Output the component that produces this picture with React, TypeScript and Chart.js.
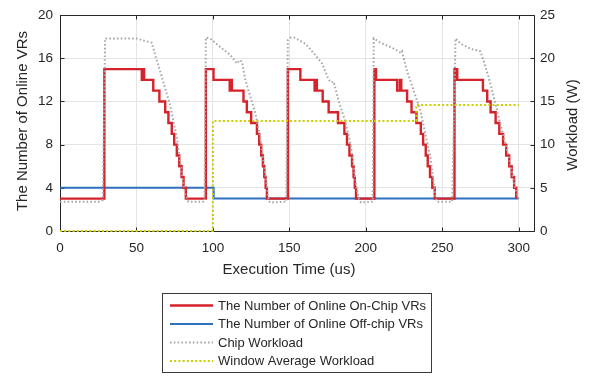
import React, { useEffect, useRef } from "react";
import { Chart, registerables } from "chart.js";

Chart.register(...registerables);

// ---- Axis ticks ----
const xTicks = [0, 50, 100, 150, 200, 250, 300];
const leftTicks = [0, 4, 8, 12, 16, 20];
const rightTicks = [0, 5, 10, 15, 20, 25];

// ---- Series: The Number of Online On-Chip VRs (step: value from t onward) ----
const onChipT = [
  0, 29, 53.5, 54.2, 55, 61, 65, 68.8, 70.9, 73.1, 74.7, 76.4, 78, 79.5, 80.8, 82.3,
  95.4, 100.4, 111, 111.6, 112.4, 120, 122.2, 125, 128.8, 130.3, 131.6, 132.7, 133.6, 134.5, 135.3,
  149, 157.2, 166.5, 167.2, 168, 171.8, 175.7, 181.8, 186, 187.7, 189.3, 191, 192, 192.8, 193.6,
  205.6, 206.7, 220.5, 222.3, 223.2, 227, 229.9, 233.1, 236, 237.5, 239.2, 240.5, 242, 243.5, 245.1,
  258, 259, 259.4, 259.8, 276.6, 279.4, 281.6, 284.9, 287.3, 289.8, 291.8, 293.8, 295.4, 297, 298.4,
];
const onChipV = [
  3, 15, 14, 15, 14, 13, 12, 11, 10, 9, 8, 7, 6, 5, 4, 3,
  15, 14, 13, 14, 13, 12, 11, 10, 9, 8, 7, 6, 5, 4, 3,
  15, 14, 13, 14, 13, 12, 11, 10, 9, 8, 7, 6, 5, 4, 3,
  15, 14, 13, 14, 13, 12, 11, 10, 9, 8, 7, 6, 5, 4, 3,
  15, 14, 15, 14, 13, 12, 11, 10, 9, 8, 7, 6, 5, 4, 3,
];

// ---- Series: The Number of Online Off-chip VRs ----
const offChipT = [0, 100.5, 300];
const offChipV = [4, 3, 3];

// ---- Series: Chip Workload (W, right axis) ----
const chipT = [
  0, 26, 28, 29.5, 50, 55.7, 60, 62.2, 65.5, 68.8, 72, 74.2, 76.4, 78.6, 80.1, 81.9, 84,
  94.5, 95.4, 98.2, 104.8, 111.3, 115.7, 117.5, 119, 121.2, 124.4, 127.7, 131, 133.1, 134.9, 136.4, 137.5,
  148, 149, 151, 153, 160.4, 165.9, 171.4, 175.7, 177.5, 179, 182.3, 186.6, 190, 192.1, 193.8, 195.8, 197,
  204.5, 205.2, 209.6, 216.1, 221.6, 223, 223.8, 224.5, 227, 231.4, 235.8, 239, 242.3, 244, 245.6, 246.5,
  256.5, 258.7, 262, 268.5, 275, 277.2, 280.5, 283.8, 287, 290.3, 293.6, 295.8, 298, 300,
];
const chipW = [
  3.4, 3.4, 3.6, 22.3, 22.3, 22.0, 21.8, 20.4, 18.5, 16.5, 14.6, 12.7, 10.8, 8.1, 6.2, 4.3, 3.4,
  3.4, 22.4, 22.3, 21.3, 20.4, 19.4, 19.8, 19.6, 17.5, 15.6, 13.7, 10.8, 8.1, 5.8, 3.5, 3.3,
  3.4, 22.1, 22.4, 22.4, 21.7, 20.6, 19.4, 17.5, 17.2, 17.3, 15.0, 12.7, 10.1, 7.4, 5.1, 3.5, 3.3,
  3.4, 22.3, 21.8, 21.3, 20.8, 20.6, 20.8, 20.2, 18.5, 16.2, 13.9, 11.2, 8.5, 6.2, 3.9, 3.4,
  3.4, 22.3, 21.7, 21.1, 20.8, 19.6, 17.7, 15.4, 13.1, 10.8, 8.5, 6.6, 4.7, 3.75,
];

// ---- Series: Window Average Workload (W, right axis, step) ----
const avgT = [0, 100, 233, 300];
const avgW = [0, 12.75, 14.6, 14.6];

const labels = [
  "The Number of Online On-Chip VRs",
  "The Number of Online Off-chip VRs",
  "Chip Workload",
  "Window Average Workload",
];

const FONT = "'Liberation Sans', Arial, Helvetica, sans-serif";
const TXT = "#262626";
const GRID = "#e4e4e4";

const pts = (t: number[], v: number[]) => t.map((x, i) => ({ x, y: v[i] }));

const framePlugin = {
  id: "frame",
  beforeDatasetsDraw(chart: any) {
    const { ctx, chartArea: a, scales } = chart;
    const L = Math.round(a.left) + 0.5;
    const R = Math.round(a.right) + 0.5;
    const T = Math.round(a.top) + 0.5;
    const B = Math.round(a.bottom) + 0.5;
    ctx.save();
    ctx.strokeStyle = TXT;
    ctx.lineWidth = 1;
    ctx.beginPath();
    ctx.rect(L, T, R - L, B - T);
    const tl = 4;
    xTicks.forEach((v) => {
      const x = Math.round(scales.x.getPixelForValue(v)) + 0.5;
      ctx.moveTo(x, B);
      ctx.lineTo(x, B - tl);
      ctx.moveTo(x, T);
      ctx.lineTo(x, T + tl);
    });
    leftTicks.forEach((v) => {
      const y = Math.round(scales.y.getPixelForValue(v)) + 0.5;
      ctx.moveTo(L, y);
      ctx.lineTo(L + tl, y);
    });
    rightTicks.forEach((v) => {
      const y = Math.round(scales.y2.getPixelForValue(v)) + 0.5;
      ctx.moveTo(R, y);
      ctx.lineTo(R - tl, y);
    });
    ctx.stroke();
    ctx.restore();
  },
  afterDraw(chart: any) {
    const { ctx, chartArea: a } = chart;
    ctx.save();
    ctx.fillStyle = TXT;
    ctx.font = `15px ${FONT}`;
    ctx.textAlign = "center";
    ctx.textBaseline = "middle";
    const cy = (a.top + a.bottom) / 2;
    // left title
    ctx.save();
    ctx.translate(23, cy - 2);
    ctx.rotate(-Math.PI / 2);
    ctx.fillText("The Number of Online VRs", 0, 0);
    ctx.restore();
    // right title (reads bottom to top)
    ctx.save();
    ctx.translate(573, cy + 2);
    ctx.rotate(-Math.PI / 2);
    ctx.fillText("Workload (W)", 0, 0);
    ctx.restore();
    // x title
    ctx.fillText("Execution Time (us)", 289, 270);

    // legend
    const bx = 162.5, by = 293.5, bw = 269, bh = 79;
    ctx.fillStyle = "#ffffff";
    ctx.fillRect(bx, by, bw, bh);
    ctx.strokeStyle = "#3a3a3a";
    ctx.lineWidth = 1;
    ctx.strokeRect(bx, by, bw, bh);
    const rows = [305.5, 324, 342.5, 361];
    ctx.font = `13px ${FONT}`;
    ctx.textAlign = "left";
    chart.data.datasets.forEach((ds: any, i: number) => {
      const y = rows[i];
      ctx.save();
      ctx.strokeStyle = ds.borderColor;
      ctx.lineWidth = ds.borderWidth;
      ctx.setLineDash(ds.borderDash || []);
      ctx.beginPath();
      ctx.moveTo(170, y);
      ctx.lineTo(213, y);
      ctx.stroke();
      ctx.restore();
      ctx.fillStyle = TXT;
      ctx.fillText(ds.label, 218, y + 0.5);
    });
    ctx.restore();
  },
};

export default function App() {
  const ref = useRef<HTMLCanvasElement | null>(null);
  useEffect(() => {
    document.body.style.margin = "0";
    if (!ref.current) return;
    const tickFont = { family: FONT, size: 13.5 };
    const chart = new Chart(ref.current, {
      type: "line",
      data: {
        datasets: [
          {
            label: labels[0],
            data: pts(onChipT, onChipV),
            borderColor: "#d6222a",
            borderWidth: 2.4,
            pointRadius: 0,
            stepped: "before",
            yAxisID: "y",
            order: 2,
            clip: false,
          },
          {
            label: labels[1],
            data: pts(offChipT, offChipV),
            borderColor: "#2f6fc0",
            borderWidth: 2,
            pointRadius: 0,
            stepped: "before",
            yAxisID: "y",
            order: 3,
            clip: false,
          },
          {
            label: labels[2],
            data: pts(chipT, chipW),
            borderColor: "#a8a8a8",
            borderWidth: 2,
            borderDash: [1.6, 2.2],
            pointRadius: 0,
            tension: 0,
            yAxisID: "y2",
            order: 1,
            clip: false,
          },
          {
            label: labels[3],
            data: pts(avgT, avgW),
            borderColor: "#cccc00",
            borderWidth: 2,
            borderDash: [2, 2.2],
            pointRadius: 0,
            stepped: "before",
            yAxisID: "y2",
            order: 0,
            clip: false,
          },
        ] as any,
      },
      options: {
        animation: false,
        responsive: false,
        devicePixelRatio: 1,
        layout: { padding: { top: 12, bottom: 116, left: 0, right: 0 } },
        plugins: { legend: { display: false }, tooltip: { enabled: false } },
        scales: {
          x: {
            type: "linear",
            min: 0,
            max: 310,
            afterBuildTicks: (s: any) => {
              s.ticks = xTicks.map((value) => ({ value }));
            },
            afterFit: (s: any) => {
              s.height = 30;
            },
            ticks: { font: tickFont, color: TXT, padding: 9, maxRotation: 0, autoSkip: false },
            grid: { color: GRID, drawTicks: false },
            border: { display: false },
          },
          y: {
            position: "left",
            min: 0,
            max: 20,
            afterBuildTicks: (s: any) => {
              s.ticks = leftTicks.map((value) => ({ value }));
            },
            afterFit: (s: any) => {
              s.width = 60;
            },
            ticks: { font: tickFont, color: TXT, padding: 7, autoSkip: false },
            grid: { color: GRID, drawTicks: false },
            border: { display: false },
          },
          y2: {
            position: "right",
            min: 0,
            max: 25,
            afterBuildTicks: (s: any) => {
              s.ticks = rightTicks.map((value) => ({ value }));
            },
            afterFit: (s: any) => {
              s.width = 58;
            },
            ticks: { font: tickFont, color: TXT, padding: 6, autoSkip: false },
            grid: { drawOnChartArea: false, drawTicks: false },
            border: { display: false },
          },
        },
      } as any,
      plugins: [framePlugin],
    });
    return () => chart.destroy();
  }, []);
  return (
    <div style={{ width: 592, height: 377, background: "#fff" }}>
      <canvas ref={ref} width={592} height={377} style={{ display: "block" }} />
    </div>
  );
}
